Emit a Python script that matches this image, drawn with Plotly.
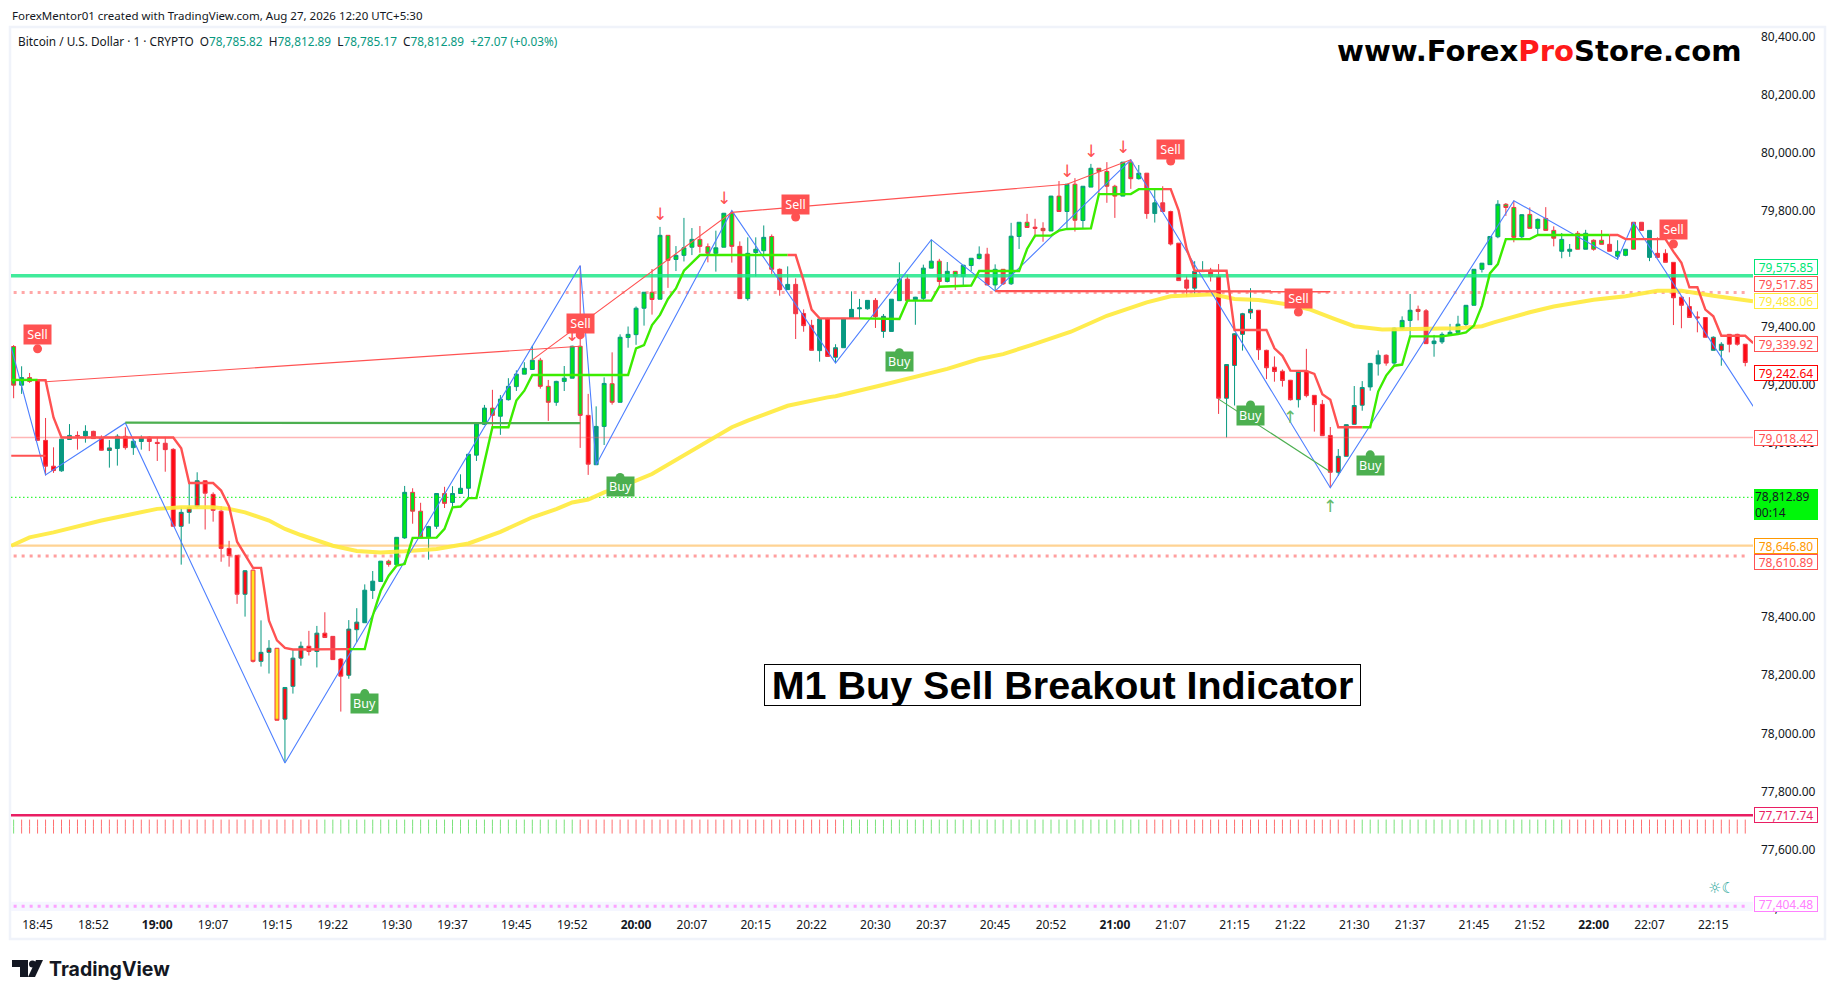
import plotly.graph_objects as go

# ---------- data ----------
bar_index = list(range(219))
bar_style = list(
    "HGHRRRTTRTCRSTRTTCRCRSSSRRRRRSYSSYSSSRSRCRSSTTGHGGHHGGHGGGGGHGGGGGHHGGGHRTGHGGGGHGHGGGHHGGHCGGGHCTCRRTRSTTTTC"
    "STGCTGGHGHGGGCGCGGHRHGHGHGGHHHGHGCTCRRCSTCRSSSSRRRRRSRRRRSSSSTTCGGGHCTTGGGGGGGHHGHGHHGGHGHHCGGHCTCRRRRRRSSRRR"
)
bar_open = [
    79332,79199,79225,79215,79009,78920,78904,79012,79026,79024,79040,79016,78974,78981,79023,78984,79005,79020,79002,78999,
    78978,78713,78761,78781,78870,78823,78765,78637,78613,78479,78562,78248,78279,78293,78049,78162,78259,78300,78282,78345,
    78334,78256,78200,78357,78381,78492,78523,78593,78581,78673,78830,78765,78674,78713,78826,78795,78826,78844,78958,79064,
    79120,79092,79149,79194,79237,79253,79285,79195,79140,79212,79223,79333,79095,78925,79057,79204,79140,79363,79373,79464,
    79519,79495,79715,79632,79646,79674,79701,79676,79653,79674,79791,79677,79497,79656,79662,79711,79598,79528,79546,79446,
    79405,79318,79427,79295,79328,79429,79462,79462,79491,79384,79384,79490,79564,79493,79498,79602,79626,79556,79591,79573,
    79611,79635,79650,79544,79598,79548,79711,79760,79743,79739,79730,79850,79797,79891,79766,79881,79946,79935,79884,79850,
    79967,79910,79929,79790,79827,79797,79688,79561,79533,79590,79595,79574,79154,79267,79374,79448,79457,79319,79261,79247,
    79216,79149,79247,79164,79133,79026,78899,78954,79064,79130,79193,79272,79302,79275,79393,79422,79460,79455,79342,79348,
    79372,79381,79408,79474,79598,79614,79710,79822,79811,79710,79787,79739,79773,79732,79701,79660,79667,79722,79667,79698,
    79684,79660,79646,79667,79760,79732,79639,79653,79622,79502,79470,79434,79432,79364,79319,79340,79374,79340,79279,
]
bar_high = [
    79337,79264,79241,79220,79086,78985,79014,79065,79040,79061,79042,79026,79010,79030,79054,79014,79026,79023,79021,79021,
    78982,78778,78865,78899,78870,78830,78782,78663,78614,78562,78564,78389,78321,78294,78159,78288,78316,78353,78370,78417,
    78334,78259,78390,78431,78513,78559,78593,78598,78675,78852,78844,78794,78715,78827,78849,78851,78892,78961,79067,79131,
    79183,79165,79223,79250,79278,79335,79293,79217,79214,79265,79335,79610,79169,79126,79226,79312,79374,79401,79470,79520,
    79599,79744,79715,79678,79775,79740,79747,79687,79731,79792,79800,79694,79708,79708,79749,79718,79601,79608,79567,79460,
    79424,79427,79431,79340,79429,79522,79496,79492,79499,79444,79495,79622,79579,79503,79614,79700,79634,79623,79592,79613,
    79636,79677,79672,79615,79599,79758,79760,79789,79772,79760,79851,79902,79892,79912,79884,79961,79946,79967,79889,79967,
    79976,79957,79929,79875,79884,79800,79688,79576,79626,79626,79603,79616,79271,79378,79448,79533,79457,79321,79298,79253,
    79217,79248,79324,79165,79148,79055,78979,79064,79196,79213,79275,79319,79305,79397,79436,79513,79473,79461,79372,79381,
    79410,79438,79475,79599,79620,79712,79836,79826,79834,79787,79811,79773,79812,79746,79723,79685,79730,79734,79701,79733,
    79716,79698,79668,79760,79760,79732,79708,79667,79622,79505,79502,79453,79432,79367,79347,79374,79376,79340,79279,
]
bar_low = [
    79154,79169,79207,79009,78888,78897,78901,79012,78977,79001,79015,78974,78915,78922,78977,78959,78977,78972,78938,78901,
    78713,78581,78722,78775,78702,78729,78591,78574,78446,78402,78244,78230,78206,78045,77900,78137,78233,78268,78227,78330,
    78254,78075,78188,78314,78381,78463,78523,78574,78581,78670,78722,78674,78598,78704,78776,78779,78826,78810,78938,79062,
    79053,79028,79146,79179,79237,79253,79187,79076,79128,79179,79223,78983,78890,78925,78993,79132,79140,79328,79338,79404,
    79442,79495,79534,79592,79625,79647,79655,79622,79590,79674,79621,79497,79490,79573,79647,79582,79507,79528,79358,79383,
    79319,79280,79298,79278,79328,79429,79427,79459,79396,79362,79384,79490,79490,79407,79491,79602,79539,79553,79527,79540,
    79592,79632,79544,79524,79544,79544,79668,79742,79708,79693,79730,79797,79735,79728,79737,79881,79858,79827,79775,79850,
    79875,79907,79772,79759,79797,79680,79559,79504,79513,79590,79556,79100,79019,79129,79318,79427,79286,79220,79211,79194,
    79146,79122,79157,79039,79025,78846,78887,78954,79064,79111,79180,79232,79266,79266,79389,79367,79422,79341,79297,79341,
    79372,79381,79401,79474,79587,79614,79705,79782,79691,79700,79739,79717,79732,79677,79636,79641,79667,79667,79662,79684,
    79660,79631,79643,79667,79732,79626,79639,79622,79406,79395,79432,79381,79364,79319,79266,79312,79335,79264,79244,
]
bar_close = [
    79199,79225,79212,79009,78920,78905,79013,79026,79024,79040,79015,78975,78983,79023,78984,79006,79017,79005,78998,78977,
    78713,78761,78777,78870,78827,78768,78637,78612,78479,78560,78248,78279,78293,78045,78158,78259,78300,78282,78345,78330,
    78254,78197,78359,78383,78493,78524,78593,78582,78675,78830,78765,78674,78712,78826,78792,78826,78844,78961,79066,79120,
    79095,79151,79195,79237,79257,79285,79195,79140,79212,79223,79333,79095,78927,79057,79205,79140,79364,79374,79464,79519,
    79494,79715,79629,79646,79672,79701,79677,79653,79672,79791,79677,79497,79653,79667,79708,79598,79528,79546,79445,79404,
    79319,79427,79298,79328,79429,79460,79465,79491,79435,79436,79495,79564,79490,79502,79602,79626,79556,79591,79574,79612,
    79636,79650,79544,79598,79548,79712,79760,79742,79739,79731,79850,79797,79891,79767,79884,79946,79935,79884,79850,79967,
    79910,79929,79790,79827,79797,79685,79559,79533,79591,79593,79574,79154,79270,79376,79445,79460,79321,79259,79246,79215,
    79149,79246,79163,79132,79025,78899,78954,79063,79129,79191,79274,79302,79275,79395,79422,79457,79453,79342,79351,79374,
    79381,79409,79474,79598,79619,79711,79822,79811,79708,79786,79739,79770,79732,79705,79660,79667,79722,79667,79698,79684,
    79660,79643,79667,79760,79732,79639,79653,79622,79500,79474,79432,79431,79364,79319,79340,79374,79340,79277,79244,
]

trail_red_x = [3,4,5,6,20,21,22,25,26,27,28,30,31,32,33,34,35,42,None,
               97,98,99,100,101,106,None,
               144,145,146,147,148,152,153,157,158,159,160,162,163,164,165,166,169,None,
               200,201,202,207,208,209,210,211,212,213,214,217,218]
trail_red_y = [79216,79216,79088,79019,79019,78982,78862,78862,78836,78781,78660,78570,78570,78388,78320,78294,78289,78290,None,
               79647,79647,79559,79459,79429,79429,None,
               79874,79874,79800,79668,79593,79593,79389,79389,79326,79300,79249,79248,79238,79168,79149,79054,79054,None,
               79716,79716,79702,79702,79659,79620,79536,79536,79459,79436,79369,79369,79344]
trail_green_x = [-0.3,3,None,
                 42,44,45,46,47,48,49,50,53,54,55,56,57,58,59,60,62,63,64,65,77,78,79,80,81,82,83,84,85,86,97,None,
                 106,111,112,115,116,120,121,126,127,128,130,131,132,135,136,140,141,144,None,
                 169,170,171,172,173,174,175,179,181,182,183,184,185,186,187,190,191,200]
trail_green_y = [79217,79217,None,
                 78290,78290,78405,78491,78543,78578,78583,78673,78674,78704,78778,78781,78810,78810,78934,79054,79054,79146,79180,79234,79234,
                 79326,79337,79406,79441,79496,79532,79593,79620,79647,79647,None,
                 79429,79427,79490,79490,79538,79542,79592,79592,79668,79714,79714,79731,79737,79739,79857,79857,79874,79874,None,
                 79054,79054,79177,79232,79266,79270,79367,79367,79375,79381,79404,79473,79584,79616,79702,79702,79716,79716]

zigzag_x = [-0.3,4,14,34,71,73,90,103,115,123,140,165,188,201,203,218]
zigzag_y = [79329,78890,79069,77898,79611,78925,79800,79275,79700,79523,79975,78846,79834,79633,79760,79126]

ma_x = [-0.3,2,5,8,11,14,18,21,25,27,29,32,34,36,40,43,46,49,53,57,61,65,68,70,72,74,77,80,85,90,92,97,102,103,108.5,113,117,121,124,127.5,
        132.5,137,142,145,150.3,153,156,159.5,162.5,165.5,168,171.5,175,178,181,184,185.5,190,193,198,202,206,209,213,217.97]
ma_y = [78646,78675,78692,78713,78733,78750,78773,78779,78779,78773,78761,78733,78704,78683,78646,78628,78623,78627,78635,78654,78694,78744,78772,78795,78805,78830,78859,78893,78973,79054,79077,79128,79157,79161,79197,79226,79255,79289,79306,79337,
        79383,79438,79484,79505,79512,79496,79492,79478,79459,79427,79402,79391,79392,79392,79395,79402,79415,79450,79470,79493,79505,79524,79524,79507,79488]

red_thin_x = [4,71,None,65,90,132,140]
red_thin_y = [79211,79333,None,79286,79794,79891,79975]
green_thin_x = [151,165]
green_thin_y = [79151,78901]
green_bar_x = [14,71]
green_bar_y = [79070,79068]
red_bar_x = [123,165,None,-0.3,4]
red_bar_y = [79523,79522,None,78956,78956]

sell_x = [3,71,98,145,161,208]
sell_y = [79373,79413,79820,80012,79499,79735]
sell_tail_y = [79324,79372,79778,79971,79451,79685]
buy_x = [44,76,111,155,170]
buy_y = [78103,78849,79280,79096,78924]
buy_tail_y = [78137,78881,79311,79131,78959]
down_arrow_x = [81,89,132,135,139,70]
down_arrow_y = [79789,79843,79937,80006,80018,79372]
up_arrow_x = [160,165]
up_arrow_y = [79088,78784]

level_ticks_y = [77691,77667]
ticks_green_bars = [0,*range(39,71),*range(104,142),*range(169,195)]
ticks_red_bars = [*range(1,39),*range(71,104),*range(142,169),*range(195,218)]

price_ticks = list(range(77400,80401,200))
time_tick_index = [3,10,18,25,33,40,48,55,63,70,78,85,93,100,108,115,123,130,138,145,153,160,168,175,183,190,198,205,213]
time_tick_text = ["18:45","18:52","<b>19:00</b>","19:07","19:15","19:22","19:30","19:37","19:45","19:52","<b>20:00</b>","20:07","20:15","20:22",
                  "20:30","20:37","20:45","20:52","<b>21:00</b>","21:07","21:15","21:22","21:30","21:37","21:45","21:52","<b>22:00</b>","22:07","22:15"]

# ---------- styling ----------
FONT = "Noto Sans"
TEAL, LIME, RED, CORAL, YEL = "#089981", "#00e41c", "#ff0a14", "#f23645", "#ffe51f"
STYLES = {
    "G": (LIME, TEAL),
    "H": (LIME, CORAL),
    "T": (TEAL, TEAL),
    "S": (RED, TEAL),
    "R": (RED, CORAL),
    "C": (CORAL, CORAL),
    "Y": (YEL, CORAL),
}
X0, X1, YT, YB = 11, 1753, 26, 911
xmin, xmax = -0.33, 217.97
ymin, ymax = 77388.3, 80435.8
def fx(p): return (p - X0) / (X1 - X0)
def fy(p): return (YB - p) / (YB - YT)

fig = go.Figure()

def hline(v, color, width, dash="solid", opacity=1.0, a=xmin, b=xmax):
    fig.add_trace(go.Scatter(x=[a, b], y=[v, v], mode="lines", opacity=opacity,
                             line=dict(color=color, width=width, dash=dash), hoverinfo="skip"))

for key, (fill, edge) in STYLES.items():
    o = [v if s == key else None for v, s in zip(bar_open, bar_style)]
    h = [v if s == key else None for v, s in zip(bar_high, bar_style)]
    l = [v if s == key else None for v, s in zip(bar_low, bar_style)]
    c = [v if s == key else None for v, s in zip(bar_close, bar_style)]
    fig.add_trace(go.Candlestick(
        x=bar_index, open=o, high=h, low=l, close=c, whiskerwidth=0,
        increasing=dict(fillcolor=fill, line=dict(color=edge, width=1)),
        decreasing=dict(fillcolor=fill, line=dict(color=edge, width=1)),
        hoverinfo="skip"))

hline(79575.85, "#1fe88a", 3.5, opacity=0.85)
hline(79517.85, "#ff5252", 3, "3px,5px", 0.5, 0, 217.4)
hline(79018.42, "#ff5252", 1.5, opacity=0.42)
hline(78812.89, "#00f70a", 1, "1.5px,2.5px")
hline(78646.80, "#ff9800", 2.2, opacity=0.42)
hline(78610.89, "#ff5252", 3, "3px,5px", 0.55, 0, 217.4)
hline(77717.74, "#e91e63", 2.5)
hline(77404.48, "#ff80ff", 3, "3px,5px", 0.7, 0, 217.4)

fig.add_trace(go.Scatter(x=ma_x, y=ma_y, mode="lines", line=dict(color="#ffeb3b", width=4), opacity=0.9, hoverinfo="skip"))
fig.add_trace(go.Scatter(x=zigzag_x, y=zigzag_y, mode="lines", line=dict(color="#4d7fff", width=1.1), hoverinfo="skip"))
fig.add_trace(go.Scatter(x=red_thin_x, y=red_thin_y, mode="lines", line=dict(color="#ff5252", width=1.1), hoverinfo="skip"))
fig.add_trace(go.Scatter(x=green_thin_x, y=green_thin_y, mode="lines", line=dict(color="#4caf50", width=1.1), hoverinfo="skip"))
fig.add_trace(go.Scatter(x=green_bar_x, y=green_bar_y, mode="lines", line=dict(color="#4caf50", width=2.2), hoverinfo="skip"))
fig.add_trace(go.Scatter(x=red_bar_x, y=red_bar_y, mode="lines", line=dict(color="#ff5252", width=2.2), hoverinfo="skip"))
fig.add_trace(go.Scatter(x=trail_green_x, y=trail_green_y, mode="lines", line=dict(color="#3cec00", width=2.4), hoverinfo="skip"))
fig.add_trace(go.Scatter(x=trail_red_x, y=trail_red_y, mode="lines", line=dict(color="#ff5252", width=2.4), hoverinfo="skip"))

for ly in level_ticks_y:
    fig.add_trace(go.Scatter(x=ticks_green_bars, y=[ly] * len(ticks_green_bars), mode="markers",
                             marker=dict(symbol="line-ns", size=5, line=dict(color="#79e279", width=1)), hoverinfo="skip"))
    fig.add_trace(go.Scatter(x=ticks_red_bars, y=[ly] * len(ticks_red_bars), mode="markers",
                             marker=dict(symbol="line-ns", size=5, line=dict(color="#ff6f6f", width=1)), hoverinfo="skip"))

fig.add_trace(go.Scatter(x=sell_x, y=sell_tail_y, mode="markers", marker=dict(color="#ff5252", size=9), hoverinfo="skip"))
fig.add_trace(go.Scatter(x=buy_x, y=buy_tail_y, mode="markers", marker=dict(color="#4caf50", size=9), hoverinfo="skip"))

ann = []
def note(text, x, y, size, color, **kw):
    d = dict(text=text, x=x, y=y, xref="x", yref="y", showarrow=False,
             font=dict(family=kw.pop("family", FONT), size=size, color=color))
    d.update(kw)
    ann.append(d)

for x, y in zip(sell_x, sell_y):
    note("Sell", x, y, 12.5, "#ffffff", bgcolor="#ff5252", width=27, height=19, borderpad=0, align="center")
for x, y in zip(buy_x, buy_y):
    note("Buy", x, y, 12.5, "#ffffff", bgcolor="#4caf50", width=27, height=19, borderpad=0, align="center")
for x, y in zip(down_arrow_x, down_arrow_y):
    note("↓", x, y, 17, "#ff5252", family="DejaVu Sans")
for x, y in zip(up_arrow_x, up_arrow_y):
    note("↑", x, y, 17, "#66bb6a", family="DejaVu Sans")
note("☼☾", 214, 77467, 15, "#26a69a", family="DejaVu Sans")

def tag(text, price, color, border, shift=0, bg="#ffffff", h=14, align="center"):
    ann.append(dict(text=text, xref="paper", yref="y", x=1, y=price, xanchor="left", xshift=1, yshift=shift,
                    showarrow=False, width=62, height=h, borderwidth=1, borderpad=0, bordercolor=border, bgcolor=bg,
                    font=dict(family=FONT, size=12, color=color), align=align))

tag("79,575.85", 79575.85, "#00e676", "#00e676", 8.7)
tag("79,517.85", 79517.85, "#ff5252", "#ff5252", 8.6)
tag("79,488.06", 79488.06, "#ffeb3b", "#ffeb3b", 0)
tag("79,339.92", 79339.92, "#ff5252", "#ff5252", 0)
tag("79,242.64", 79242.64, "#ff0000", "#ff0000", 0)
tag("79,018.42", 79018.42, "#ff5252", "#ff5252", 0)
tag("78,812.89<br>00:14", 78812.89, "#131722", "#00f70a", -7, "#00f70a", 29, "left")
tag("78,646.80", 78646.80, "#ff9800", "#ff9800", 0)
tag("78,610.89", 78610.89, "#ff5252", "#ff5252", -6.3)
tag("77,717.74", 77717.74, "#e91e63", "#e91e63", 0)
tag("77,404.48", 77404.48, "#ff80ff", "#ff80ff", 2)

def page_text(text, px, py, size, color="#131722", family=FONT, anchor="left", **kw):
    d = dict(text=text, xref="paper", yref="paper", x=fx(px), y=fy(py), xanchor=anchor, yanchor="middle",
             showarrow=False, font=dict(family=family, size=size, color=color))
    d.update(kw)
    ann.append(d)

page_text("ForexMentor01 created with TradingView.com, Aug 27, 2026 12:20 UTC+5:30", 10, 15, 11.5)
TV = "#089981"
page_text(
    "Bitcoin / U.S. Dollar · 1 · CRYPTO\u00a0\u00a0O"
    f"<span style='color:{TV}'>78,785.82</span>\u00a0\u00a0H<span style='color:{TV}'>78,812.89</span>"
    f"\u00a0\u00a0L<span style='color:{TV}'>78,785.17</span>\u00a0\u00a0C<span style='color:{TV}'>78,812.89</span>"
    f"\u00a0\u00a0<span style='color:{TV}'>+27.07 (+0.03%)</span>", 16, 41, 11.8)
page_text("<b>www.Forex<span style='color:#ff1a1a'>Pro</span>Store.com</b>", 1539, 51, 29.1, "#000000", "DejaVu Sans", "center")
page_text("<b>M1 Buy Sell Breakout Indicator</b>", 1062.5, 685, 39.5, "#000000", "Liberation Sans", "center",
          bgcolor="#ffffff", bordercolor="#000000", borderwidth=1, width=595, height=40, borderpad=0)
page_text("<b>TradingView</b>", 47, 969, 19.5, "#131722", "Inter", "left")

def path(d, fill):
    return dict(type="path", path=d, xref="paper", yref="paper", fillcolor=fill, line=dict(width=0), layer="above")
def P(x, y):
    return f"{fx(x):.5f},{fy(y):.5f}"

shapes = [
    dict(type="rect", xref="paper", yref="paper", x0=fx(10), x1=fx(1825), y0=fy(939), y1=fy(27),
         line=dict(color="#f0f3fa", width=2.5), fillcolor="rgba(0,0,0,0)", layer="below"),
    dict(type="rect", xref="paper", yref="y", x0=0, x1=1, y0=ymin, y1=77420, fillcolor="#f5f6ff",
         line=dict(width=0), layer="below"),
    path(f"M{P(12,960)} L{P(28,960)} L{P(28,977)} L{P(20,977)} L{P(20,967)} L{P(12,967)} Z", "#131722"),
    path(f"M{P(43,960)} L{P(35,977)} L{P(28,977)} L{P(36,960)} Z", "#131722"),
    dict(type="circle", xref="paper", yref="paper", x0=fx(29), x1=fx(36), y0=fy(967.5), y1=fy(960.5),
         fillcolor="#131722", line=dict(width=0), layer="above"),
]

fig.update_layout(
    width=1835, height=1000, autosize=False, showlegend=False,
    paper_bgcolor="#ffffff", plot_bgcolor="#ffffff",
    margin=dict(l=X0, r=1835 - X1, t=YT, b=1000 - YB, pad=0),
    font=dict(family=FONT, size=12, color="#131722"),
    annotations=ann, shapes=shapes,
    xaxis=dict(range=[xmin, xmax], tickmode="array", tickvals=time_tick_index, ticktext=time_tick_text,
               showgrid=False, zeroline=False, showline=False, ticks="outside", ticklen=3, tickcolor="rgba(0,0,0,0)",
               rangeslider=dict(visible=False),
               tickfont=dict(family=FONT, size=12, color="#131722"), tickangle=0),
    yaxis=dict(range=[ymin, ymax], side="right", tickmode="array", tickvals=price_ticks, tickformat=",.2f",
               showgrid=False, zeroline=False, showline=False, ticks="", ticklabelstandoff=7,
               tickfont=dict(family=FONT, size=12, color="#131722")),
)

fig.write_html("out.html", config=dict(displayModeBar=False),
               post_script="document.body.style.margin='0';document.body.style.overflow='hidden';")
